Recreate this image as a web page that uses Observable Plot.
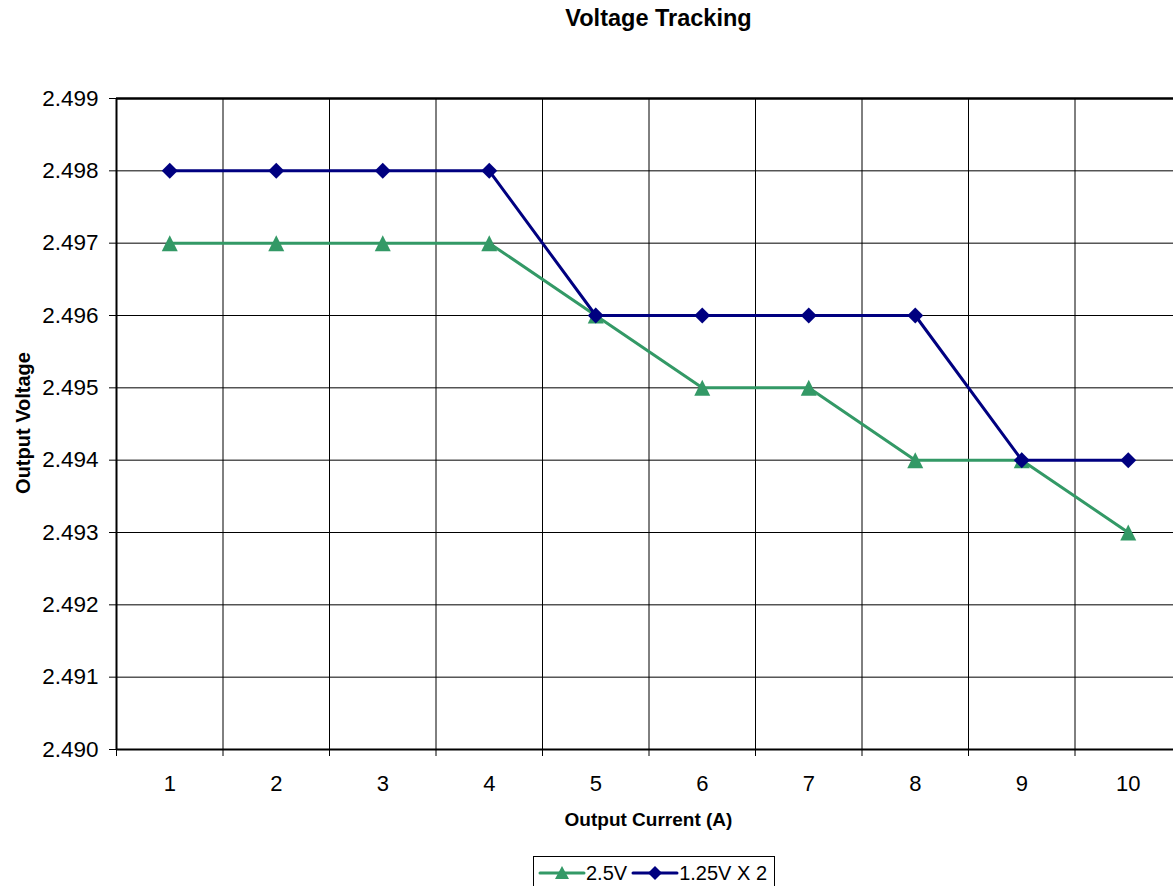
<!DOCTYPE html>
<html>
<head>
<meta charset="utf-8">
<script src="https://cdn.jsdelivr.net/npm/d3@7"></script>
<script src="https://cdn.jsdelivr.net/npm/@observablehq/plot@0.6"></script>
<style>
  html, body { margin: 0; padding: 0; background: #fff; overflow: hidden; }
  body { width: 1173px; height: 886px; position: relative; font-family: "Liberation Sans", Arial, sans-serif; }
  #chart { position: absolute; left: 0; top: 0; }
  .title { position: absolute; left: 0; width: 1317px; top: 5px; text-align: center; font-weight: bold; font-size: 23.5px; color: #000; }
  .xlabel { position: absolute; left: 0; width: 1297px; top: 809px; text-align: center; font-weight: bold; font-size: 19px; color: #000; }
  .ylabel { position: absolute; left: 22.5px; top: 423px; transform: translate(-50%, -50%) rotate(-90deg); white-space: nowrap; font-weight: bold; font-size: 20px; color: #000; }
  .legend { position: absolute; left: 533px; top: 856px; width: 242px; height: 34px; border: 1px solid #000; box-sizing: border-box; display: flex; align-items: center; padding-left: 4px; font-size: 20px; }
  .legend svg { display: block; }
  .legend span { margin-right: 4px; }
</style>
</head>
<body>
<div class="title">Voltage Tracking</div>
<div id="chart"></div>
<div class="xlabel">Output Current (A)</div>
<div class="ylabel">Output Voltage</div>
<div class="legend" id="legend"></div>
<script>
// ---- data ----
const currents = [1, 2, 3, 4, 5, 6, 7, 8, 9, 10];
const v25 = [2.497, 2.497, 2.497, 2.497, 2.496, 2.495, 2.495, 2.494, 2.494, 2.493];
const v125x2 = [2.498, 2.498, 2.498, 2.498, 2.496, 2.496, 2.496, 2.496, 2.494, 2.494];
const seriesNames = ["2.5V", "1.25V X 2"];
const yTicks = [2.490, 2.491, 2.492, 2.493, 2.494, 2.495, 2.496, 2.497, 2.498, 2.499];
const xEdges = [0.5, 1.5, 2.5, 3.5, 4.5, 5.5, 6.5, 7.5, 8.5, 9.5, 10.5];

const GREEN = "#339966";
const NAVY = "#000080";

// Triangle centred on its bounding box (Excel-style marker)
const triangle = {
  draw(context, size) {
    const h = Math.sqrt(size) * 0.95;
    const w = h * 1.0;
    context.moveTo(0, -h / 2);
    context.lineTo(w / 2, h / 2);
    context.lineTo(-w / 2, h / 2);
    context.closePath();
  }
};
const diamond = {
  draw(context, size) {
    const r = Math.sqrt(size) * 0.5;
    context.moveTo(0, -r);
    context.lineTo(r, 0);
    context.lineTo(0, r);
    context.lineTo(-r, 0);
    context.closePath();
  }
};

const d25 = currents.map((c, i) => ({x: c, y: v25[i]}));
const d125 = currents.map((c, i) => ({x: c, y: v125x2[i]}));

const chart = Plot.plot({
  width: 1173,
  height: 886,
  marginTop: 98,
  marginBottom: 137,
  marginLeft: 116,
  marginRight: 0,
  style: {fontFamily: "Liberation Sans, Arial, sans-serif", color: "#000", background: "transparent", overflow: "hidden"},
  x: {type: "linear", domain: [0.5, 10.5], range: [116, 1181]},
  y: {domain: [2.490, 2.499]},
  marks: [
    Plot.ruleY(yTicks, {stroke: "#000", strokeWidth: 1}),
    Plot.ruleX(xEdges, {stroke: "#000", strokeWidth: 1}),
    Plot.ruleY([2.499], {stroke: "#000", strokeWidth: 2.5}),
    Plot.axisY({ticks: yTicks, tickSize: 7, tickPadding: 11, tickFormat: d3.format(".3f"), fontSize: 22.5, label: null, stroke: "#000"}),
    Plot.axisX({ticks: xEdges, tickSize: 7, tickFormat: () => "", label: null, stroke: "#000"}),
    Plot.axisX({ticks: currents, tickSize: 0, tickPadding: 26, tickFormat: d3.format("d"), fontSize: 22, label: null}),
    Plot.ruleX([0.5], {stroke: "#000", strokeWidth: 2}),
    Plot.ruleY([2.490], {stroke: "#000", strokeWidth: 2}),
    Plot.line(d25, {x: "x", y: "y", stroke: GREEN, strokeWidth: 3}),
    Plot.dot(d25, {x: "x", y: "y", symbol: triangle, r: 9.5, fill: GREEN, stroke: "none"}),
    Plot.line(d125, {x: "x", y: "y", stroke: NAVY, strokeWidth: 3}),
    Plot.dot(d125, {x: "x", y: "y", symbol: diamond, r: 9, fill: NAVY, stroke: "none"})
  ]
});
document.getElementById("chart").appendChild(chart);

// ---- legend ----
const legend = document.getElementById("legend");
const legendSpecs = [
  {name: seriesNames[0], color: GREEN, shape: "tri"},
  {name: seriesNames[1], color: NAVY, shape: "dia"}
];
for (const s of legendSpecs) {
  const ns = "http://www.w3.org/2000/svg";
  const svg = document.createElementNS(ns, "svg");
  svg.setAttribute("width", 48);
  svg.setAttribute("height", 20);
  const line = document.createElementNS(ns, "line");
  line.setAttribute("x1", 2); line.setAttribute("x2", 46);
  line.setAttribute("y1", 10); line.setAttribute("y2", 10);
  line.setAttribute("stroke", s.color); line.setAttribute("stroke-width", 3);
  line.setAttribute("stroke-linecap", "round");
  svg.appendChild(line);
  const p = document.createElementNS(ns, "path");
  p.setAttribute("fill", s.color);
  p.setAttribute("d", s.shape === "tri" ? "M24,3 L31,16 L17,16 Z" : "M24,3 L31,10 L24,17 L17,10 Z");
  svg.appendChild(p);
  legend.appendChild(svg);
  const t = document.createElement("span");
  t.textContent = s.name;
  legend.appendChild(t);
}
</script>
</body>
</html>
